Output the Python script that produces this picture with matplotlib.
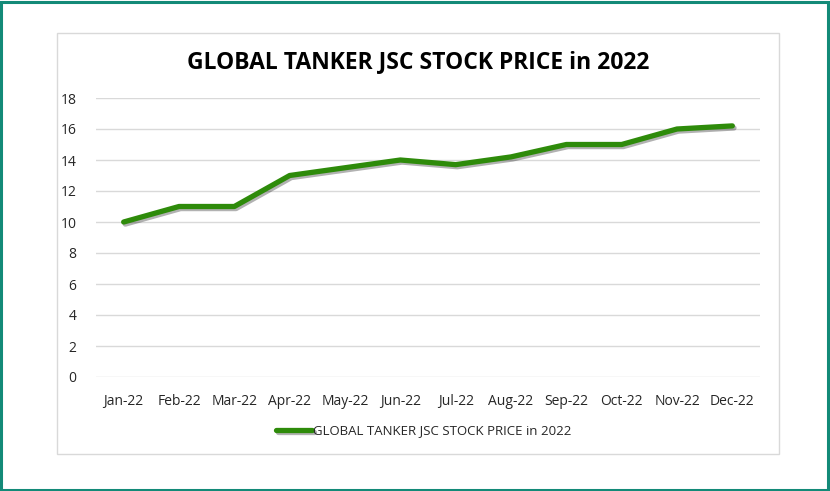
import matplotlib
matplotlib.use("Agg")
import matplotlib.pyplot as plt
import matplotlib.patheffects as pe
from matplotlib.patches import Rectangle

months = ["Jan-22", "Feb-22", "Mar-22", "Apr-22", "May-22", "Jun-22",
          "Jul-22", "Aug-22", "Sep-22", "Oct-22", "Nov-22", "Dec-22"]
price = [10, 11, 11, 13, 13.5, 14, 13.7, 14.2, 15, 15, 16, 16.2]
yticks = [0, 2, 4, 6, 8, 10, 12, 14, 16, 18]
series_name = "GLOBAL TANKER JSC STOCK PRICE in 2022"

plt.rcParams['font.family'] = ['Open Sans', 'DejaVu Sans']

W, H = 830, 491
fig = plt.figure(figsize=(W / 100, H / 100), dpi=100)

# outer teal frame and inner chart box
fig.patches.append(Rectangle((1 / W, 1 / H), 1 - 3 / W, 1 - 3 / H, transform=fig.transFigure,
                             fill=False, edgecolor="#138a78", linewidth=2.2))
fig.patches.append(Rectangle((57 / W, 1 - 454 / H), (779 - 57) / W, (454 - 33) / H,
                             transform=fig.transFigure, fill=False, edgecolor="#d9d9d9", linewidth=1))

ax = fig.add_axes([96 / W, 1 - 377 / H, (760 - 96) / W, (377 - 98) / H])
x = range(len(months))
ax.plot(x, price, color="#2e8b0a", linewidth=3.8, solid_capstyle="round",
        label=series_name,
        path_effects=[pe.SimpleLineShadow(offset=(1.2, -1.5), alpha=0.3, shadow_color="black"),
                      pe.Normal()])
ax.set_xlim(-0.5, len(months) - 0.5)
ax.set_ylim(0, 18)
ax.set_yticks(yticks)
ax.set_xticks(list(x))
ax.set_xticklabels(months)
for s in ax.spines.values():
    s.set_visible(False)
ax.grid(axis="y", color="#d9d9d9", linewidth=1)
ax.set_axisbelow(True)
ax.tick_params(length=0, labelsize=10, colors="#262626", pad=12)
ax.tick_params(axis="y", pad=14)

fig.text(418 / W, 1 - 62 / H, "GLOBAL TANKER JSC STOCK PRICE in 2022", ha="center", va="center",
         fontsize=16.5, fontweight="bold", color="black")

leg = ax.legend(loc="center", bbox_to_anchor=(424 / W, 1 - 431 / H), bbox_transform=fig.transFigure,
                frameon=False, fontsize=9.5, handlelength=2.7, handletextpad=0.1)
for t in leg.get_texts():
    t.set_color("#262626")

fig.savefig("out.png", dpi=100)
